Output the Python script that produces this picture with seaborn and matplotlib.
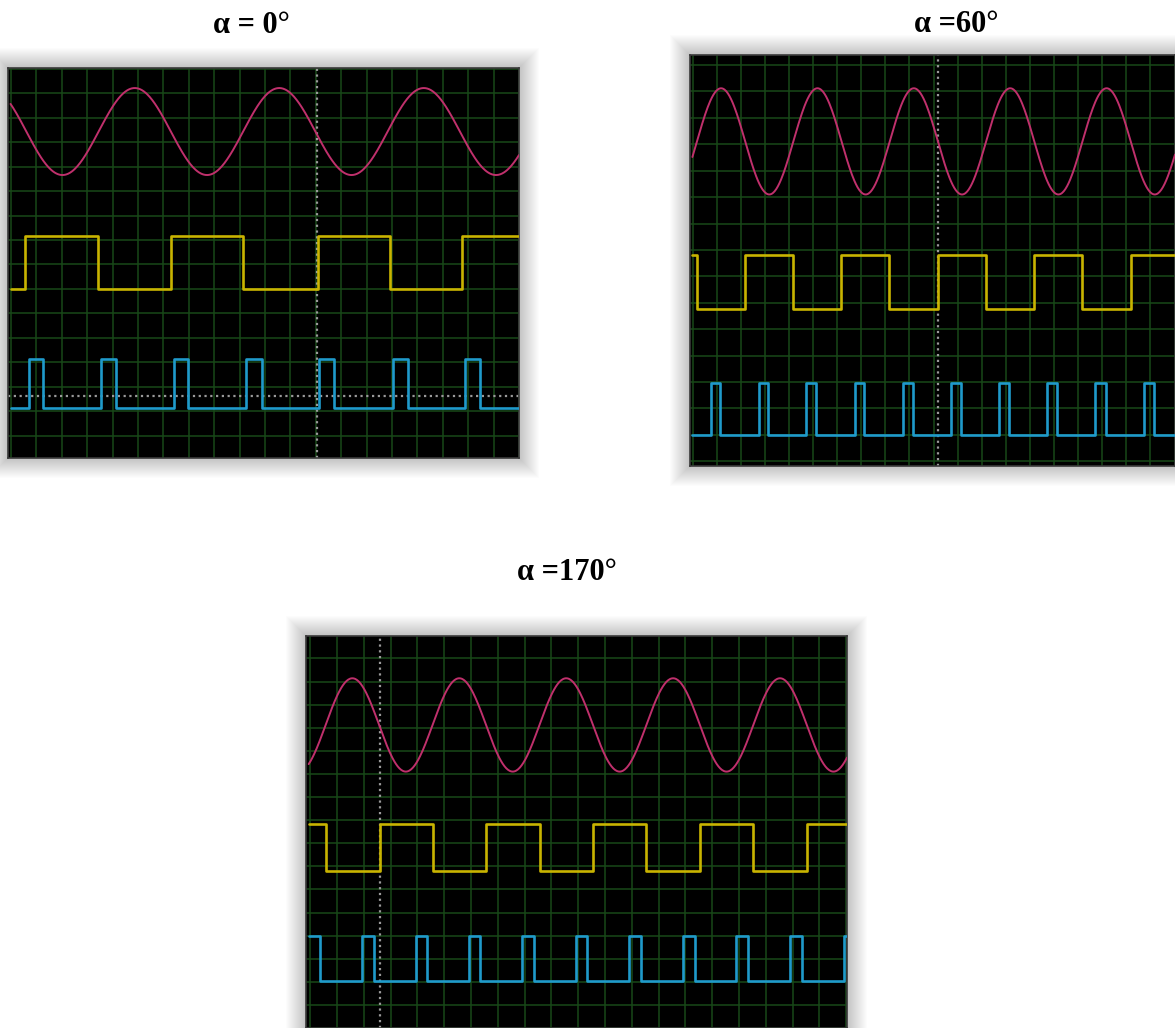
import numpy as np
import pandas as pd
import matplotlib
matplotlib.use('Agg')
import matplotlib.pyplot as plt
import seaborn as sns
from matplotlib.patches import Rectangle

sns.set_style('white')
plt.rcParams['font.family'] = ['Liberation Serif', 'DejaVu Serif']

# titles
titles = ['α = 0°', 'α =60°', 'α =170°']

# screen ranges (in grid divisions)
xlims = [(-1.12, 19.0), (-1.11, 19.02), (-1.16, 19.03)]
ylims = [(0.08, 16.04), (-0.18, 15.38), (-1.0, 15.97)]

# sine trace: first peak, period, midline, amplitude
sine_peak = [3.87, 0.18, 0.57]
sine_period = [5.69, 4.00, 3.99]
sine_mid = [13.44, 12.11, 12.12]
sine_amp = [1.78, 2.01, 2.02]

# square (gate) trace: edge positions, low/high level, starts high?
sq_edges = [
    [-0.44, 2.42, 5.31, 8.14, 11.07, 13.93, 16.76],
    [-0.83, 1.17, 3.18, 5.16, 7.15, 9.20, 11.18, 13.18, 15.17, 17.18],
    [-0.42, 1.59, 3.57, 5.55, 7.57, 9.56, 11.54, 13.54, 15.53, 17.52],
]
sq_levels = [(6.98, 9.15), (5.78, 7.80), (5.81, 7.82)]
sq_start_high = [False, True, True]

# pulse trace
pulse_edges = [
    [-0.31, 0.26, 2.55, 3.15, 5.41, 5.98, 8.27, 8.87, 11.13, 11.73,
     14.02, 14.62, 16.89, 17.48],
    [-0.24, 0.14, 1.76, 2.12, 3.72, 4.10, 5.74, 6.12, 7.74, 8.13,
     9.72, 10.14, 11.72, 12.13, 13.72, 14.13, 15.72, 16.14, 17.72, 18.14],
    [-0.62, 0.93, 1.39, 2.95, 3.37, 4.93, 5.35, 6.91, 7.34, 8.90, 9.34,
     10.90, 11.34, 12.91, 13.35, 14.89, 15.33, 16.89, 17.34, 18.90],
]
pulse_levels = [(2.11, 4.15), (1.01, 2.97), (1.04, 3.00)]
pulse_start_high = [False, False, True]

# cursors
cursor_x = [11.05, 9.17, 1.59]
cursor_y = [2.61, None, None]

# layout (pixels: left, top, right, bottom) and title anchors
W, H = 1175, 1028
boxes = [(8, 68, 519, 458), (690, 55, 1175, 466), (306, 636, 847, 1028)]
title_pos = [(251, 33), (956, 32), (567, 580)]

SINE_C = '#c0306c'
SQ_C = '#c8b400'
PULSE_C = '#1f9acb'
GRID_C = '#184818'


def step_frame(edges, levels, start_high, x0, x1):
    xs = [x0] + list(edges) + [x1]
    start = 1 if start_high else 0
    ys = [levels[(start + i) % 2] for i in range(len(edges) + 1)]
    ys.append(ys[-1])
    return pd.DataFrame({'x': xs, 'y': ys})


fig = plt.figure(figsize=(W / 100, H / 100), dpi=100)
fig.patch.set_facecolor('white')

for i in range(3):
    l, t, r, b = boxes[i]
    # soft drop shadow
    for k in range(1, 21):
        fig.patches.append(Rectangle(((l - k) / W, (H - b - k) / H),
                                     (r - l + 2 * k) / W, (b - t + 2 * k) / H,
                                     transform=fig.transFigure, facecolor='black',
                                     edgecolor='none', alpha=0.011, zorder=-1))

    ax = fig.add_axes([l / W, (H - b) / H, (r - l) / W, (b - t) / H])
    ax.set_facecolor('black')
    x0, x1 = xlims[i]
    y0, y1 = ylims[i]

    # graticule
    for gx in range(int(np.ceil(x0)), int(np.floor(x1)) + 1):
        ax.axvline(gx, color=GRID_C, lw=1.1, zorder=1)
    for gy in range(int(np.ceil(y0)), int(np.floor(y1)) + 1):
        ax.axhline(gy, color=GRID_C, lw=1.1, zorder=1)

    # cursors
    ax.axvline(cursor_x[i], color='#9a9a9a', lw=1.6, ls=(0, (1, 1.6)), zorder=2)
    if cursor_y[i] is not None:
        ax.axhline(cursor_y[i], color='#9a9a9a', lw=1.6, ls=(0, (1, 1.6)), zorder=2)

    # sine
    xs = np.linspace(x0 + 0.1, x1, 600)
    sine = pd.DataFrame({'x': xs,
                         'y': sine_mid[i] + sine_amp[i] *
                         np.cos(2 * np.pi * (xs - sine_peak[i]) / sine_period[i])})
    sns.lineplot(data=sine, x='x', y='y', ax=ax, color=SINE_C, lw=1.4,
                 estimator=None, sort=False, zorder=3)

    sq = step_frame(sq_edges[i], sq_levels[i], sq_start_high[i], x0 + 0.1, x1)
    sns.lineplot(data=sq, x='x', y='y', ax=ax, color=SQ_C, lw=1.9,
                 drawstyle='steps-post', estimator=None, sort=False, zorder=3)

    pl = step_frame(pulse_edges[i], pulse_levels[i], pulse_start_high[i], x0 + 0.1, x1)
    sns.lineplot(data=pl, x='x', y='y', ax=ax, color=PULSE_C, lw=1.9,
                 drawstyle='steps-post', estimator=None, sort=False, zorder=3)

    ax.set_xlim(x0, x1)
    ax.set_ylim(y0, y1)
    ax.set_xticks([])
    ax.set_yticks([])
    ax.set_xlabel('')
    ax.set_ylabel('')
    for s in ax.spines.values():
        s.set_color('#3a3a3a')
        s.set_linewidth(1.2)

    tx, ty = title_pos[i]
    fig.text(tx / W, 1 - ty / H, titles[i], ha='center', va='baseline',
             fontsize=22, fontweight='bold', color='black')

fig.savefig('out.png', dpi=100)
